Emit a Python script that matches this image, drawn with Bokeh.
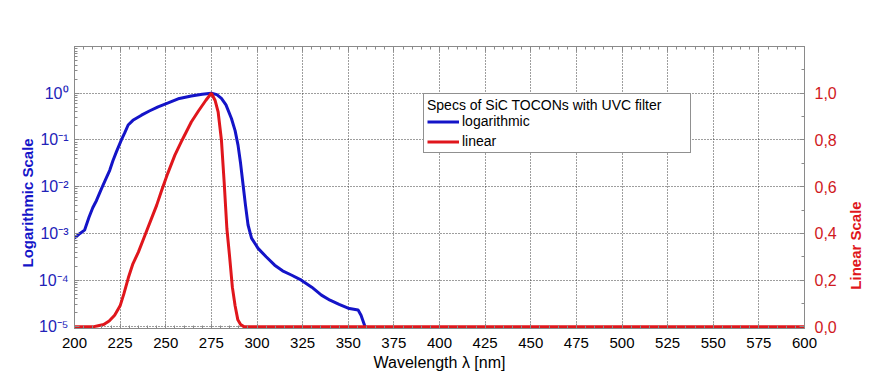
import math
from bokeh.plotting import figure
from bokeh.layouts import row
from bokeh.models import (Range1d, LinearAxis, LinearScale, FixedTicker, SingleIntervalTicker,
                          CustomJSTickFormatter, Label, Legend, LegendItem, Title)
from bokeh.embed import file_html
from bokeh.resources import INLINE

# ---- data ----
# logarithmic curve: wavelength [nm] and log10 of the relative response
log_wl = [200, 203, 205.5, 208, 210, 212, 214.8, 217, 219.3, 221, 223, 225.7, 227.5,
          229.4, 232, 236.7, 241, 245.8, 251, 256.8, 264, 270, 275, 278, 280.5, 283,
          286, 288, 289.6, 291, 292.4, 293.7, 295.1, 297, 300.6, 305, 309.7, 314,
          318.8, 324.3, 330, 335.3, 340, 345, 349.9, 355.4, 357, 359.5]
log_exp = [-3.1, -3.0, -2.93, -2.65, -2.45, -2.3, -2.04, -1.85, -1.65, -1.45, -1.25, -1.0,
           -0.85, -0.68, -0.58, -0.47, -0.38, -0.29, -0.21, -0.12, -0.06, -0.02, 0.0,
           -0.03, -0.11, -0.25, -0.54, -0.8, -1.11, -1.5, -1.97, -2.4, -2.82, -3.1,
           -3.32, -3.5, -3.68, -3.8, -3.89, -4.0, -4.15, -4.32, -4.43, -4.52, -4.6,
           -4.64, -4.75, -5.03]

# linear curve: wavelength [nm] and relative response
lin_wl = [200, 205, 210, 213, 216, 219, 222, 225, 227, 229.5, 232, 235, 238.5, 242, 245,
          247.6, 251, 255, 259, 264, 268, 272, 275, 277, 278.7, 280.5, 282, 283.5, 285,
          286.5, 288, 289.5, 291, 293, 600]
lin_val = [0.0, 0.0, 0.0, 0.005, 0.01, 0.025, 0.05, 0.09, 0.14, 0.21, 0.27, 0.32, 0.39,
           0.46, 0.52, 0.58, 0.655, 0.735, 0.80, 0.877, 0.925, 0.97, 1.0, 0.97, 0.92,
           0.80, 0.62, 0.42, 0.30, 0.17, 0.09, 0.03, 0.01, 0.0, 0.0]

log_major = [1e-5, 1e-4, 1e-3, 1e-2, 1e-1, 1e0]
lin_major = [0.0, 0.2, 0.4, 0.6, 0.8, 1.0]
lin_minor = [0.1, 0.3, 0.5, 0.7, 0.9, 1.1]

legend_title = "Specs of SiC TOCONs with UVC filter"
series_names = ["logarithmic", "linear"]
left_label = "Logarithmic Scale"
right_label = "Linear Scale"

BLUE = "#1414c8"
RED = "#e0161c"
BLUE_T = "#2222b8"
RED_T = "#d01822"
GRAY = "#8a8a8a"
FONT = "Liberation Sans"

W, H = 880, 378
PW = 845            # width of the main figure; the rest holds the right label
LIN_LO = -0.007     # tiny pad so the zero line is not hidden by the frame edge

log_val = [10 ** e for e in log_exp]
log_minor = [k * 10 ** d for d in range(-5, 1) for k in range(2, 10)]

p = figure(width=PW, height=H, x_range=Range1d(200, 600),
           y_range=Range1d(10 ** (-5 + LIN_LO / 0.2), 10),
           y_axis_type="log", output_backend="svg", toolbar_location=None,
           min_border_left=74, min_border_right=PW - 804, min_border_top=46,
           min_border_bottom=H - 328)
p.extra_y_ranges = {"lin": Range1d(LIN_LO, 1.2)}
p.extra_y_scales = {"lin": LinearScale()}
p.outline_line_color = GRAY
p.background_fill_color = "white"

x_ticker = SingleIntervalTicker(interval=25, num_minor_ticks=5)
y_ticker = FixedTicker(ticks=log_major, minor_ticks=log_minor)

# grid
p.xgrid.ticker = x_ticker
p.ygrid.ticker = y_ticker
for g in (p.xgrid, p.ygrid):
    g.grid_line_color = "#3c3c3c"
    g.grid_line_dash = "1 2"
    g.grid_line_width = 1

# bottom axis
xa = p.xaxis[0]
xa.ticker = x_ticker
xa.axis_label = "Wavelength λ [nm]"
xa.axis_label_text_font = FONT
xa.axis_label_text_font_size = "16px"
xa.axis_label_text_font_style = "normal"
xa.axis_label_text_color = "black"
xa.axis_label_standoff = 3
xa.major_label_text_font = FONT
xa.major_label_text_font_size = "15px"
xa.major_label_text_color = "black"
xa.major_label_standoff = 9

# left axis
ya = p.yaxis[0]
ya.ticker = y_ticker
ya.formatter = CustomJSTickFormatter(code="""
const e = Math.round(Math.log10(tick));
const sup = {"0":"\u2070","1":"\u00b9","2":"\u00b2","3":"\u00b3","4":"\u2074","5":"\u2075","-":"\u207b"};
return "10" + String(e).split("").map(c => sup[c]).join("");
""")
ya.major_label_text_font = FONT
ya.major_label_text_font_size = "16px"
ya.major_label_text_color = BLUE_T
ya.major_label_standoff = 6

# top axis (ticks only)
ta = LinearAxis(ticker=x_ticker)
ta.major_label_text_color = None
ta.major_label_standoff = 0
p.add_layout(ta, "above")

# right axis (linear)
ra = LinearAxis(y_range_name="lin",
                ticker=FixedTicker(ticks=lin_major, minor_ticks=lin_minor))
ra.formatter = CustomJSTickFormatter(code="return tick.toFixed(1).replace('.', ',');")
ra.major_label_text_font = FONT
ra.major_label_text_font_size = "16px"
ra.major_label_text_color = RED_T
ra.major_label_standoff = 10
p.add_layout(ra, "right")

for ax in (xa, ya, ta, ra):
    ax.axis_line_color = GRAY
    ax.major_tick_line_color = GRAY
    ax.minor_tick_line_color = GRAY
    ax.major_tick_in = 5
    ax.major_tick_out = 0
    ax.minor_tick_in = 3
    ax.minor_tick_out = 0

# curves
r_log = p.line(log_wl, log_val, line_color=BLUE, line_width=3)
r_lin = p.line(lin_wl, lin_val, line_color=RED, line_width=3, y_range_name="lin")

# left side label
t_left = Title(text=left_label, align="left", offset=61, text_font=FONT,
               text_font_size="15px", text_font_style="bold", text_color=BLUE,
               standoff=0)
p.add_layout(t_left, "left")

legend = Legend(items=[LegendItem(label=series_names[0], renderers=[r_log]),
                       LegendItem(label=series_names[1], renderers=[r_lin])],
                location=(349, 175), title=legend_title)
legend.title_text_font = FONT
legend.title_text_font_size = "14px"
legend.title_text_font_style = "normal"
legend.title_text_color = "black"
legend.title_standoff = 0
legend.label_text_font = FONT
legend.label_text_font_size = "14px"
legend.label_text_color = "black"
legend.border_line_color = "#222222"
legend.border_line_width = 1
legend.background_fill_color = "white"
legend.background_fill_alpha = 1
legend.padding = 3
legend.margin = 0
legend.spacing = 4
legend.glyph_width = 32
legend.glyph_height = 13
legend.label_height = 13
legend.label_standoff = 3
legend.label_width = 225
p.add_layout(legend)

# right side label, drawn in a narrow strip figure next to the chart
# (its frame is aligned with the main frame, whose bottom is at y=328)
side = figure(width=W - PW, height=H, x_range=Range1d(0, 1), y_range=Range1d(0, 1),
              output_backend="svg", toolbar_location=None, min_border=0,
              x_axis_location=None, y_axis_location=None)
side.outline_line_color = None
side.xgrid.visible = False
side.ygrid.visible = False
side.add_layout(Label(x=10, y=328 - 245, x_units="screen", y_units="screen",
                      text=right_label, angle=math.pi / 2, text_align="center",
                      text_baseline="middle", text_font=FONT, text_font_size="15px",
                      text_font_style="bold", text_color=RED))

layout = row(p, side)

with open("out.html", "w", encoding="utf-8") as f:
    f.write(file_html(layout, INLINE))
